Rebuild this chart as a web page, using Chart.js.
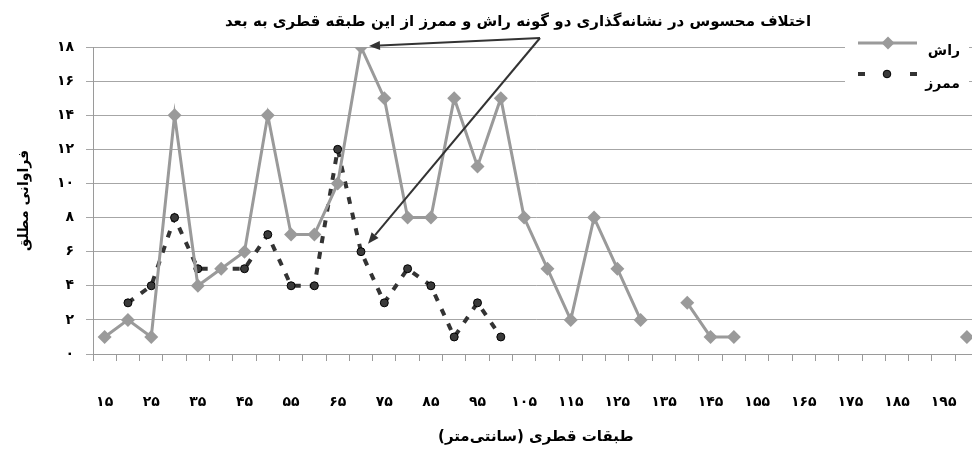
<!DOCTYPE html>
<html><head><meta charset="utf-8">
<script src="https://cdn.jsdelivr.net/npm/chart.js@4.4.1/dist/chart.umd.min.js"></script>
<style>
html,body{margin:0;padding:0;overflow:hidden;background:#fff;width:972px;height:452px}
#wrap{position:absolute;left:0;top:0;width:1000px;height:452px}
</style></head>
<body><div id="wrap"><canvas id="c" dir="rtl"></canvas></div>
<script>
// Diameter classes (cm)
const diameterClasses = [15,20,25,30,35,40,45,50,55,60,65,70,75,80,85,90,95,100,105,110,115,120,125,130,135,140,145,150,155,160,165,170,175,180,185,190,195,200];
// Beech (راش) absolute frequency
const raash = [1,2,1,14,4,5,6,14,7,7,10,18,15,8,8,15,11,15,8,5,2,8,5,2,null,3,1,1,null,null,null,null,null,null,null,null,null,1];
// Hornbeam (ممرز) absolute frequency
const memraz = [null,3,4,8,5,5,5,7,4,4,12,6,3,5,4,1,3,1,null,null,null,null,null,null,null,null,null,null,null,null,null,null,null,null,null,null,null,null];
const seriesNames = ['راش','ممرز'];
const yTickValues = [0,2,4,6,8,10,12,14,16,18];
const annotationText = 'اختلاف محسوس در نشانه‌گذاری دو گونه راش و ممرز از این طبقه قطری به بعد';
const xTitle = 'طبقات قطری (سانتی‌متر)';
const yTitle = 'فراوانی مطلق';
const annotatedClassIndex = 11; // 70 cm class

const fa = n => String(n).replace(/\d/g, d => '۰۱۲۳۴۵۶۷۸۹'[d]);
const FONT = "'DejaVu Sans', sans-serif";
const GREY = '#9a9a9a';
const DARK = '#333333';

Chart.defaults.font.family = FONT;
Chart.defaults.font.weight = 'bold';
Chart.defaults.color = '#000';

function arrow(ctx, x0, y0, x1, y1) {
  const a = Math.atan2(y1 - y0, x1 - x0);
  const L = 11, W = 4.5;
  const bx = x1 - L * Math.cos(a), by = y1 - L * Math.sin(a);
  ctx.beginPath(); ctx.moveTo(x0, y0); ctx.lineTo(bx, by); ctx.stroke();
  ctx.beginPath();
  ctx.moveTo(x1, y1);
  ctx.lineTo(bx + W * Math.sin(a), by - W * Math.cos(a));
  ctx.lineTo(bx - W * Math.sin(a), by + W * Math.cos(a));
  ctx.closePath(); ctx.fill();
}

const overlay = {
  id: 'overlay',
  afterDraw(chart) {
    const ctx = chart.ctx, xs = chart.scales.x, ys = chart.scales.y;
    ctx.save();
    // annotation text
    ctx.direction = 'rtl';
    ctx.font = 'bold 15px ' + FONT;
    ctx.fillStyle = '#000';
    ctx.textAlign = 'center';
    ctx.textBaseline = 'middle';
    ctx.fillText(annotationText, 518, 22);
    // arrows
    const sx = 540, sy = 38;
    ctx.strokeStyle = DARK; ctx.fillStyle = DARK; ctx.lineWidth = 2;
    const px = xs.getPixelForValue(annotatedClassIndex);
    arrow(ctx, sx, sy, px + 8, ys.getPixelForValue(raash[annotatedClassIndex]) - 1);
    arrow(ctx, sx, sy, px + 7, ys.getPixelForValue(memraz[annotatedClassIndex]) - 8);
    // legend box
    ctx.fillStyle = '#fff';
    ctx.fillRect(845, 33, 124, 63);
    const ds = chart.data.datasets;
    // entry 1
    ctx.strokeStyle = ds[0].borderColor; ctx.lineWidth = ds[0].borderWidth;
    ctx.beginPath(); ctx.moveTo(858, 43); ctx.lineTo(917, 43); ctx.stroke();
    ctx.fillStyle = ds[0].pointBackgroundColor;
    ctx.beginPath(); ctx.moveTo(888, 36.5); ctx.lineTo(894.5, 43); ctx.lineTo(888, 49.5); ctx.lineTo(881.5, 43); ctx.closePath(); ctx.fill();
    // entry 2
    ctx.strokeStyle = ds[1].borderColor; ctx.lineWidth = ds[1].borderWidth;
    ctx.beginPath(); ctx.moveTo(858, 74); ctx.lineTo(865, 74); ctx.moveTo(910, 74); ctx.lineTo(917, 74); ctx.stroke();
    ctx.fillStyle = ds[1].pointBackgroundColor; ctx.strokeStyle = '#000'; ctx.lineWidth = 1;
    ctx.beginPath(); ctx.arc(887, 74, 3.8, 0, Math.PI * 2); ctx.fill(); ctx.stroke();
    ctx.fillStyle = '#000';
    ctx.font = 'bold 14px ' + FONT;
    ctx.textAlign = 'right';
    ctx.fillText(seriesNames[0], 960, 51);
    ctx.fillText(seriesNames[1], 960, 84);
    ctx.restore();
  }
};

new Chart(document.getElementById('c'), {
  type: 'line',
  data: {
    labels: diameterClasses.map(fa),
    datasets: [
      {
        label: seriesNames[0], data: raash,
        borderColor: GREY, backgroundColor: GREY, borderWidth: 3,
        pointStyle: 'rectRot', pointRadius: 7, pointBackgroundColor: GREY, pointBorderColor: GREY, pointBorderWidth: 0,
        spanGaps: false, tension: 0
      },
      {
        label: seriesNames[1], data: memraz,
        borderColor: DARK, backgroundColor: DARK, borderWidth: 4, borderDash: [7, 9],
        pointStyle: 'circle', pointRadius: 4, pointBackgroundColor: '#3a3a3a', pointBorderColor: '#000', pointBorderWidth: 1,
        spanGaps: false, tension: 0
      }
    ]
  },
  options: {
    responsive: true, maintainAspectRatio: false, animation: false,
    layout: { padding: { left: 12, top: 47, right: 0, bottom: 2 } },
    plugins: { legend: { display: false }, tooltip: { enabled: false } },
    scales: {
      x: {
        offset: true,
        afterFit: s => { s.height = 96; },
        grid: { display: true, drawOnChartArea: false, drawTicks: true, tickLength: 7, offset: true, color: GREY },
        border: { display: true, color: GREY },
        ticks: {
          autoSkip: false, maxRotation: 0, padding: 33, color: '#000',
          font: { size: 14, weight: 'bold' },
          callback: (v, i) => (i % 2 === 0 ? fa(diameterClasses[i]) : '')
        },
        title: { display: true, text: xTitle, color: '#000', font: { size: 15, weight: 'bold' }, padding: { top: 16, bottom: 4 } }
      },
      y: {
        min: 0, max: 18,
        afterFit: s => { s.width = 81; },
        afterBuildTicks: s => { s.ticks = yTickValues.map(v => ({ value: v })); },
        grid: { color: '#a6a6a6', tickLength: 7, drawTicks: true },
        border: { display: true, color: GREY },
        ticks: { padding: 12, color: '#000', font: { size: 14, weight: 'bold' }, callback: v => fa(v) },
        title: { display: true, text: yTitle, color: '#000', font: { size: 14, weight: 'bold' }, padding: { top: 4, bottom: 20 } }
      }
    }
  },
  plugins: [overlay]
});
</script>
</body></html>
